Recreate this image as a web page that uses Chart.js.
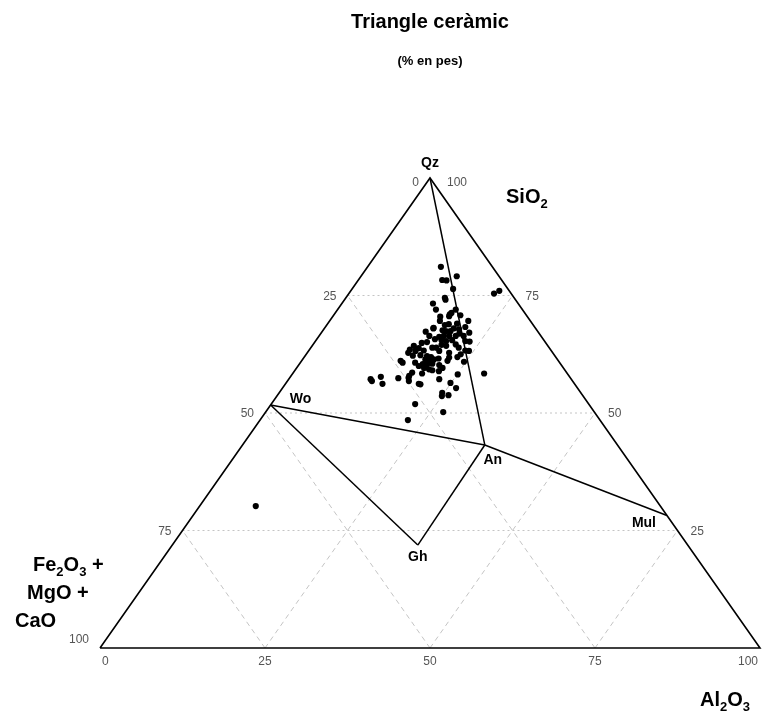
<!DOCTYPE html>
<html>
<head>
<meta charset="utf-8">
<title>Triangle ceràmic</title>
<script src="https://cdn.jsdelivr.net/npm/chart.js@4.4.1/dist/chart.umd.min.js"></script>
<style>
  body { margin: 0; background: #fff; }
</style>
</head>
<body>
<canvas id="ternari" width="771" height="711"></canvas>
<script>
// mostres (% en pes); Fe2O3 + MgO + CaO = 100 - SiO2 - Al2O3
var sio2 = [81.1, 79.1, 78.3, 78.2, 76.4, 74.5, 74.1, 73.3, 75.4, 76.0,
    72.0, 72.0, 71.0, 71.3, 70.8, 70.5, 69.6, 69.6, 69.0, 68.9,
    68.7, 68.0, 67.6, 67.4, 67.4, 68.0, 67.8, 68.3, 67.1, 67.3,
    66.4, 66.2, 66.4, 66.4, 66.4, 66.9, 65.7, 65.5, 65.3, 65.5,
    66.4, 65.3, 65.2, 65.1, 64.9, 64.5, 64.3, 64.6, 63.9, 63.8,
    63.2, 63.3, 63.9, 63.2, 63.5, 62.8, 63.3, 62.2, 62.3, 62.1,
    61.9, 61.4, 61.1, 61.4, 60.4, 60.4, 60.5, 61.6, 61.8, 61.1,
    61.9, 61.1, 60.7, 60.7, 60.0, 59.6, 60.2, 59.6, 59.3, 59.1,
    60.9, 58.6, 57.9, 58.9, 58.4, 58.2, 58.4, 57.4, 57.7, 56.2,
    56.8, 57.2, 56.8, 57.5, 57.2, 56.2, 56.1, 56.4, 55.3, 54.3,
    53.6, 53.8, 51.9, 50.2, 48.5, 30.2, 70.6, 68.1, 64.3, 63.9,
    62.8, 62.5, 63.2];
var al2o3 = [11.1, 14.5, 12.7, 13.4, 15.3, 15.0, 15.3, 13.8, 22.0, 22.5,
    14.9, 17.9, 17.5, 17.6, 19.2, 16.3, 16.7, 21.0, 19.6, 18.4,
    17.9, 16.5, 18.1, 18.7, 19.4, 19.6, 20.5, 21.2, 22.4, 15.7,
    16.7, 18.3, 18.9, 19.7, 20.7, 21.0, 17.9, 19.0, 19.8, 20.6,
    21.9, 22.7, 23.4, 17.0, 16.3, 19.5, 20.3, 21.6, 22.4, 16.4,
    16.2, 17.4, 19.0, 19.8, 15.2, 15.3, 23.7, 16.3, 17.4, 18.5,
    19.2, 18.6, 19.3, 19.9, 18.7, 19.4, 20.1, 20.5, 22.0, 22.1,
    23.2, 15.0, 15.5, 17.4, 18.3, 19.3, 21.3, 22.1, 20.2, 20.8,
    24.7, 18.0, 17.9, 21.9, 19.6, 25.1, 29.0, 16.5, 13.7, 14.7,
    12.8, 12.4, 18.4, 18.0, 22.8, 20.2, 20.5, 24.9, 26.3, 24.7,
    25.0, 25.9, 21.8, 26.9, 22.4, 8.5, 17.6, 16.5, 15.4, 18.4,
    21.5, 23.4, 24.3];

// fases minerals
var phaseNames = ["Qz", "Wo", "An", "Gh", "Mul"];
var phaseSiO2 = [100, 51.7, 43.2, 21.9, 28.2];
var phaseAl2O3 = [0, 0, 36.7, 37.2, 71.8];
var tieLines = [[0, 2], [1, 2], [2, 4], [1, 3], [3, 2]];

var ticks = [0, 25, 50, 75, 100];
var gridSteps = [25, 50, 75];

// ternari -> cartesià (x de 0 a 100, y = SiO2)
function tern(s, a) {
    return { x: a + s / 2, y: s };
}

var samples = sio2.map(function (s, i) { return tern(s, al2o3[i]); });

var datasets = [];
datasets.push({
    type: "scatter", data: samples, order: 0,
    pointRadius: 3.1, pointBackgroundColor: "#000", pointBorderWidth: 0
});

// marc del triangle
datasets.push({
    data: [tern(0, 0), tern(0, 100), tern(100, 0), tern(0, 0)],
    showLine: true, borderColor: "#000", borderWidth: 1.6, pointRadius: 0, order: 1
});

tieLines.forEach(function (p) {
    datasets.push({
        data: [tern(phaseSiO2[p[0]], phaseAl2O3[p[0]]), tern(phaseSiO2[p[1]], phaseAl2O3[p[1]])],
        showLine: true, borderColor: "#000", borderWidth: 1.5, pointRadius: 0, order: 1
    });
});

gridSteps.forEach(function (g) {
    // SiO2 constant
    datasets.push({
        data: [tern(g, 0), tern(g, 100 - g)],
        showLine: true, borderColor: "#c4c4c4", borderWidth: 1, borderDash: [2, 3], pointRadius: 0, order: 2
    });
    // Al2O3 constant
    datasets.push({
        data: [tern(0, g), tern(100 - g, g)],
        showLine: true, borderColor: "#c4c4c4", borderWidth: 1, borderDash: [5, 4], pointRadius: 0, order: 2
    });
    // Fe2O3+MgO+CaO constant
    datasets.push({
        data: [tern(0, 100 - g), tern(100 - g, 0)],
        showLine: true, borderColor: "#c4c4c4", borderWidth: 1, borderDash: [5, 4], pointRadius: 0, order: 2
    });
});

var FONT = "'Liberation Sans', Arial, sans-serif";

function chem(ctx, parts, x, y, size) {
    ctx.textAlign = "left";
    ctx.textBaseline = "alphabetic";
    parts.forEach(function (p) {
        var sub = /^[0-9]$/.test(p);
        ctx.font = "bold " + (sub ? Math.round(size * 0.65) : size) + "px " + FONT;
        ctx.fillText(p, x, sub ? y + size * 0.25 : y);
        x += ctx.measureText(p).width;
    });
}

var labelsPlugin = {
    id: "ternaryLabels",
    afterDraw: function (chart) {
        var ctx = chart.ctx, sx = chart.scales.x, sy = chart.scales.y;
        function px(s, a) {
            var p = tern(s, a);
            return [sx.getPixelForValue(p.x), sy.getPixelForValue(p.y)];
        }
        ctx.save();
        ctx.fillStyle = "#000";

        // títol
        var cx = (chart.chartArea.left + chart.chartArea.right) / 2;
        ctx.textAlign = "center";
        ctx.textBaseline = "alphabetic";
        ctx.font = "bold 20px " + FONT;
        ctx.fillText("Triangle ceràmic", cx, 28);
        ctx.font = "bold 13px " + FONT;
        ctx.fillText("(% en pes)", cx, 65);

        // noms dels vèrtexs
        var top = px(100, 0), bl = px(0, 0), br = px(0, 100);
        chem(ctx, ["SiO", "2"], top[0] + 76, top[1] + 25, 20);
        chem(ctx, ["Fe", "2", "O", "3", " +"], bl[0] - 67, bl[1] - 77, 20);
        chem(ctx, ["MgO +"], bl[0] - 73, bl[1] - 49, 20);
        chem(ctx, ["CaO"], bl[0] - 85, bl[1] - 21, 20);
        chem(ctx, ["Al", "2", "O", "3"], br[0] - 60, br[1] + 58, 20);

        // fases
        var offs = [[0, -15], [30, -6], [8, 15], [0, 12], [-23, 8]];
        ctx.font = "bold 14px " + FONT;
        ctx.textAlign = "center";
        ctx.textBaseline = "middle";
        phaseNames.forEach(function (n, i) {
            var p = px(phaseSiO2[i], phaseAl2O3[i]);
            ctx.fillText(n, p[0] + offs[i][0], p[1] + offs[i][1]);
        });

        // escales
        ctx.font = "12px " + FONT;
        ctx.fillStyle = "#555";
        ticks.forEach(function (t) {
            // esquerra: Fe2O3+MgO+CaO
            var p = px(100 - t, 0);
            ctx.textAlign = "right";
            ctx.fillText(String(t), p[0] - 11, p[1] + (t === 0 ? 5 : t === 100 ? -8 : 1));
            // dreta: SiO2
            if (t > 0) {
                p = px(t, 100 - t);
                ctx.textAlign = "left";
                ctx.fillText(String(t), p[0] + (t === 100 ? 17 : 13), p[1] + (t === 100 ? 5 : 1));
            }
            // base: Al2O3
            p = px(0, t);
            ctx.textAlign = t === 0 ? "left" : t === 100 ? "right" : "center";
            ctx.fillText(String(t), p[0] + (t === 0 ? 2 : t === 100 ? -2 : 0), p[1] + 14);
        });
        ctx.restore();
    }
};

new Chart(document.getElementById("ternari"), {
    type: "scatter",
    data: { datasets: datasets },
    options: {
        responsive: false,
        animation: false,
        layout: { autoPadding: false, padding: { left: 100, right: 11, top: 178, bottom: 63 } },
        datasets: { scatter: { clip: false } },
        scales: {
            x: { type: "linear", min: 0, max: 100, display: false },
            y: { type: "linear", min: 0, max: 100, display: false }
        },
        plugins: { legend: { display: false }, tooltip: { enabled: false } }
    },
    plugins: [labelsPlugin]
});
</script>
</body>
</html>
